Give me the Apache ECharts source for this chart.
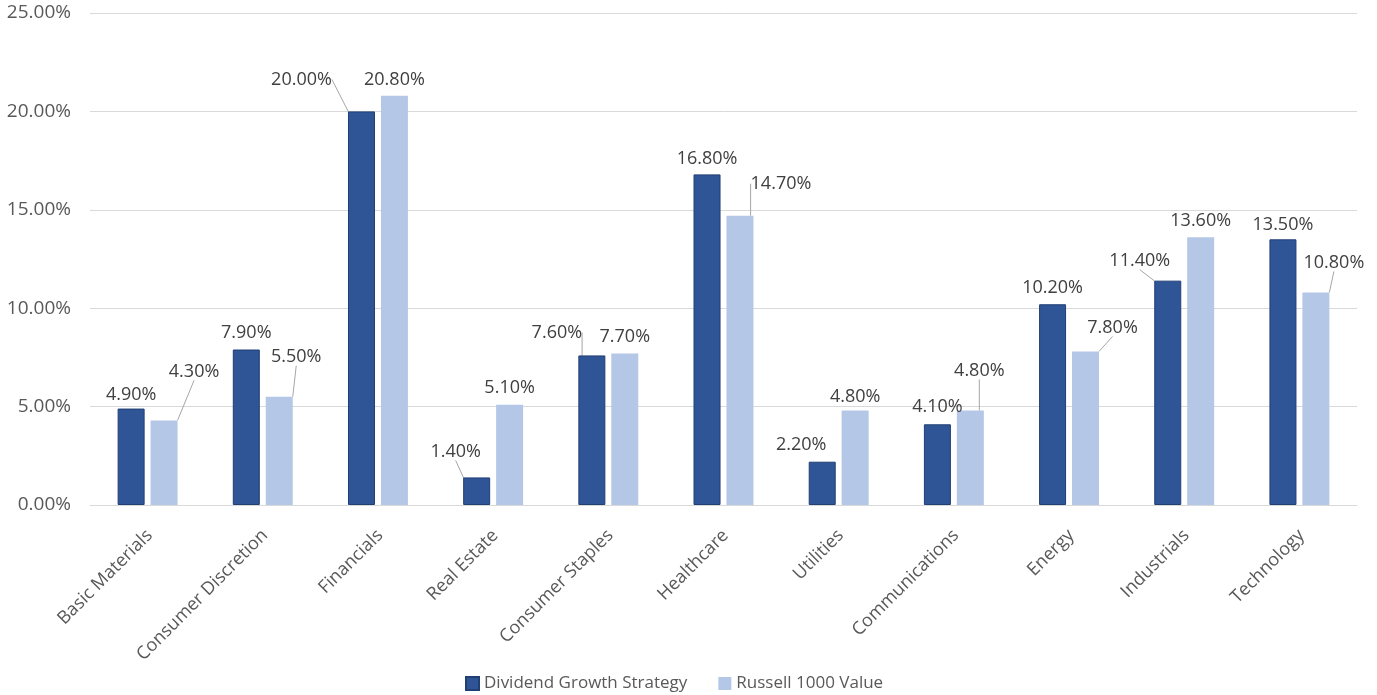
<!DOCTYPE html>
<html>
<head>
<meta charset="utf-8">
<script src="https://cdn.jsdelivr.net/npm/echarts@6/dist/echarts.min.js"></script>
<style>
html,body{margin:0;padding:0;background:#fff;}
#chart{width:1377px;height:695px;}
</style>
</head>
<body>
<div id="chart"></div>
<script>
const categories = ['Basic Materials','Consumer Discretion','Financials','Real Estate','Consumer Staples','Healthcare','Utilities','Communications','Energy','Industrials','Technology'];
const dividendGrowth = [4.9, 7.9, 20.0, 1.4, 7.6, 16.8, 2.2, 4.1, 10.2, 11.4, 13.5];
const russell1000Value = [4.3, 5.5, 20.8, 5.1, 7.7, 14.7, 4.8, 4.8, 7.8, 13.6, 10.8];
const yTicks = [0, 5, 10, 15, 20, 25];

// label displacement (pixels) to mimic the leader-line placement of the original
const offsetsA = [[0,0],[0,-3],[-60,-18],[-21,-12],[-35,-9],[0,-2],[-21,-3],[0,-3],[0,-2],[-28,-6],[0,0]];
const offsetsB = [[30,-35],[17,-26],[0,-2],[0,-3],[0,-3],[41,-18],[0,0],[9,-26],[27,-10],[0,-2],[18,-16]];

const FONT = '"Open Sans", "Noto Sans", sans-serif';
const chart = echarts.init(document.getElementById('chart'));

function labelCfg() {
  return {
    show: true, position: 'top', distance: 5,
    formatter: p => p.value.toFixed(2) + '%',
    color: '#404040', fontFamily: FONT, fontSize: 18
  };
}
function withLeaders(values, offs) {
  return values.map((v, i) => ({
    value: v,
    labelLine: { show: Math.abs(offs[i][0]) + Math.abs(offs[i][1]) > 25 }
  }));
}

chart.setOption({
  animation: false,
  grid: { left: 90, right: 20, top: 13, bottom: 190, containLabel: false },
  legend: {
    top: 670, left: 460, itemWidth: 13, itemHeight: 13, itemGap: 31,
    icon: 'rect',
    textStyle: { color: '#595959', fontFamily: FONT, fontSize: 17 },
    data: ['Dividend Growth Strategy', 'Russell 1000 Value']
  },
  xAxis: {
    type: 'category', data: categories,
    axisLine: { show: true, lineStyle: { color: '#d9d9d9' } },
    axisTick: { show: false },
    axisLabel: { rotate: 45, interval: 0, margin: 17, padding: [0, 6, 0, 0], align: 'right', verticalAlign: 'top', color: '#595959', fontFamily: FONT, fontSize: 18 }
  },
  yAxis: {
    type: 'value', min: yTicks[0], max: yTicks[yTicks.length - 1], interval: yTicks[1] - yTicks[0],
    axisLine: { show: false }, axisTick: { show: false },
    splitLine: { lineStyle: { color: '#d9d9d9' } },
    axisLabel: { formatter: v => v.toFixed(2) + '%', color: '#595959', fontFamily: FONT, fontSize: 19, margin: 19 }
  },
  series: [
    {
      name: 'Dividend Growth Strategy', type: 'bar', data: withLeaders(dividendGrowth, offsetsA),
      barWidth: 27, barGap: '22%',
      itemStyle: { color: '#2F5597', borderColor: '#203F73', borderWidth: 1 },
      label: labelCfg(),
      labelLine: { lineStyle: { color: '#a6a6a6', width: 1 } },
      labelLayout: p => ({ dx: offsetsA[p.dataIndex][0], dy: offsetsA[p.dataIndex][1] })
    },
    {
      name: 'Russell 1000 Value', type: 'bar', data: withLeaders(russell1000Value, offsetsB),
      barWidth: 27, barGap: '22%',
      itemStyle: { color: '#B4C7E7' },
      label: labelCfg(),
      labelLine: { lineStyle: { color: '#a6a6a6', width: 1 } },
      labelLayout: p => ({ dx: offsetsB[p.dataIndex][0], dy: offsetsB[p.dataIndex][1] })
    }
  ]
});
</script>
</body>
</html>
